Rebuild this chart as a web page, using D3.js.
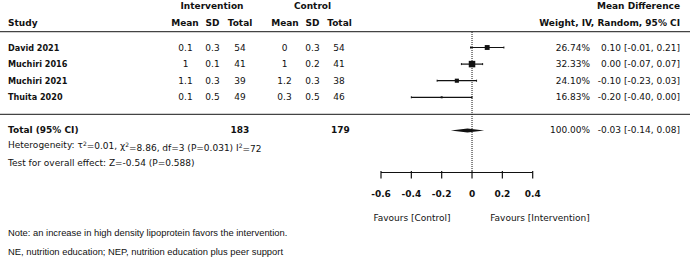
<!DOCTYPE html>
<html>
<head>
<meta charset="utf-8">
<script src="https://cdn.jsdelivr.net/npm/d3@7"></script>
<style>
  body { margin: 0; background: #fff; }
  svg { display: block; font-family: "DejaVu Sans", sans-serif; }
</style>
</head>
<body>
<svg id="forest"></svg>
<script>
const W = 690, H = 264;

// study data
const studies = ["David 2021", "Muchiri 2016", "Muchiri 2021", "Thuita 2020"];
const intMean = ["0.1", "1", "1.1", "0.1"];
const intSD = ["0.3", "0.1", "0.3", "0.5"];
const intN = [54, 41, 39, 49];
const ctlMean = ["0", "1", "1.2", "0.3"];
const ctlSD = ["0.3", "0.2", "0.3", "0.5"];
const ctlN = [54, 41, 38, 46];
const weights = [26.74, 32.33, 24.1, 16.83];
const md = [0.1, 0.0, -0.1, -0.2];
const lo = [-0.01, -0.07, -0.23, -0.4];
const hi = [0.21, 0.07, 0.03, 0.0];

const pooledMd = -0.03, pooledLo = -0.14, pooledHi = 0.08;
const totalInt = 183, totalCtl = 179;
const tickValues = [-0.6, -0.4, -0.2, 0, 0.2, 0.4];

const svg = d3.select("#forest").attr("width", W).attr("height", H);

const x = d3.scaleLinear().domain([-0.6, 0.4]).range([381, 532.7]);
const rowY = (i) => 47.5 + i * 16.6;
const boxSize = d3.scaleLinear().domain([16.83, 32.33]).range([2, 6.5]);

const col = { study: 8, iMean: 185.5, iSD: 212.5, iN: 240, cMean: 284.5, cSD: 312.5, cN: 339, weight: 590, ci: 680 };

function txt(xp, yp, s, opts = {}) {
  return svg
    .append("text")
    .attr("x", xp)
    .attr("y", yp)
    .attr("dy", "0.35em")
    .attr("font-size", opts.size || 9)
    .attr("font-weight", opts.bold ? "bold" : "normal")
    .attr("text-anchor", opts.anchor || "start")
    .attr("font-family", opts.family || null)
    .attr("fill", "#111")
    .text(s);
}

// headers
txt(212, 6, "Intervention", { bold: true, anchor: "middle" });
txt(312.5, 6, "Control", { bold: true, anchor: "middle" });
txt(col.ci, 6, "Mean Difference", { bold: true, anchor: "end" });
txt(col.study, 22.7, "Study", { bold: true });
txt(185, 22.7, "Mean", { bold: true, anchor: "middle" });
txt(212.5, 22.7, "SD", { bold: true, anchor: "middle" });
txt(240, 22.7, "Total", { bold: true, anchor: "middle" });
txt(285, 22.7, "Mean", { bold: true, anchor: "middle" });
txt(312.5, 22.7, "SD", { bold: true, anchor: "middle" });
txt(339.5, 22.7, "Total", { bold: true, anchor: "middle" });
txt(col.ci, 22.7, "Weight, IV, Random, 95% CI", { bold: true, anchor: "end" });

// separator lines
[31.7, 114.3].forEach((yy) => {
  svg.append("line").attr("x1", 0).attr("x2", W).attr("y1", yy).attr("y2", yy)
    .attr("stroke", "#444").attr("stroke-width", 1.3);
});

// zero line
svg.append("line")
  .attr("x1", x(0)).attr("x2", x(0)).attr("y1", 32).attr("y2", 172)
  .attr("stroke", "#111").attr("stroke-width", 1).attr("stroke-dasharray", "1,1");

// study rows
studies.forEach((s, i) => {
  const y = rowY(i);
  txt(col.study, y, s, { bold: true, family: "DejaVu Sans Condensed, DejaVu Sans, sans-serif" })
    .attr("font-stretch", "condensed");
  txt(col.iMean, y, intMean[i], { anchor: "middle" });
  txt(col.iSD, y, intSD[i], { anchor: "middle" });
  txt(col.iN, y, intN[i], { anchor: "middle" });
  txt(col.cMean, y, ctlMean[i], { anchor: "middle" });
  txt(col.cSD, y, ctlSD[i], { anchor: "middle" });
  txt(col.cN, y, ctlN[i], { anchor: "middle" });
  txt(col.weight, y, weights[i].toFixed(2) + "%", { anchor: "end" });
  txt(col.ci, y, `${md[i].toFixed(2)} [${lo[i].toFixed(2)}, ${hi[i].toFixed(2)}]`, { anchor: "end" });

  svg.append("line")
    .attr("x1", x(lo[i])).attr("x2", x(hi[i])).attr("y1", y).attr("y2", y)
    .attr("stroke", "#111").attr("stroke-width", 1.2);
  [lo[i], hi[i]].forEach((v) => {
    svg.append("line").attr("x1", x(v)).attr("x2", x(v)).attr("y1", y - 1).attr("y2", y + 1)
      .attr("stroke", "#111").attr("stroke-width", 1);
  });
  const sz = boxSize(weights[i]);
  svg.append("rect")
    .attr("x", x(md[i]) - sz / 2).attr("y", y - sz / 2)
    .attr("width", sz).attr("height", sz).attr("fill", "#111");
});

// total row
const yT = 130.5;
txt(col.study, 129.8, "Total (95% CI)", { bold: true });
txt(col.iN, 129.8, totalInt, { bold: true, anchor: "middle" });
txt(col.cN + 1.5, 129.8, totalCtl, { bold: true, anchor: "middle" });
txt(col.weight, 129.8, "100.00%", { anchor: "end" });
txt(col.ci, 129.8, `${pooledMd.toFixed(2)} [${pooledLo.toFixed(2)}, ${pooledHi.toFixed(2)}]`, { anchor: "end" });
svg.append("polygon")
  .attr("points", [
    [x(pooledLo), yT], [x(pooledMd), yT - 2], [x(pooledHi), yT], [x(pooledMd), yT + 2]
  ].map((p) => p.join(",")).join(" "))
  .attr("fill", "#111");

// heterogeneity
const het = txt(col.study, 145, "");
het.append("tspan").text("Heterogeneity: τ");
het.append("tspan").attr("dy", "-0.4em").attr("font-size", 6).text("2");
het.append("tspan").attr("dy", "0.4em").text("=0.01, χ");
het.append("tspan").attr("dy", "-0.4em").attr("font-size", 6).text("2");
het.append("tspan").attr("dy", "0.4em").text("=8.86, df=3 (P=0.031) I");
het.append("tspan").attr("dy", "-0.4em").attr("font-size", 6).text("2");
het.append("tspan").attr("dy", "0.4em").text("=72");

txt(col.study, 162.7, "Test for overall effect: Z=-0.54 (P=0.588)");

// axis
const axis = svg.append("g").attr("transform", "translate(0,172.5)");
axis.append("line").attr("x1", x(-0.6)).attr("x2", x(0.4)).attr("stroke", "#111").attr("stroke-width", 1.2);
tickValues.forEach((t) => {
  axis.append("line").attr("x1", x(t)).attr("x2", x(t)).attr("y1", -1.5).attr("y2", 6)
    .attr("stroke", "#111").attr("stroke-width", 1.2);
  axis.append("text")
    .attr("x", x(t)).attr("y", 21).attr("dy", "0.35em")
    .attr("text-anchor", "middle").attr("font-size", 9).attr("font-weight", "bold")
    .attr("fill", "#111")
    .text(t === 0 ? "0" : t.toFixed(1));
});

txt(412, 217.5, "Favours [Control]", { anchor: "middle" });
txt(540, 217.5, "Favours [Intervention]", { anchor: "middle" });

// notes
txt(col.study, 232.5, "Note: an increase in high density lipoprotein favors the intervention.",
  { family: "Liberation Sans, Arial, sans-serif", size: 9.4 });
txt(col.study, 252, "NE, nutrition education; NEP, nutrition education plus peer support",
  { family: "Liberation Sans, Arial, sans-serif", size: 9.4 });
</script>
</body>
</html>
